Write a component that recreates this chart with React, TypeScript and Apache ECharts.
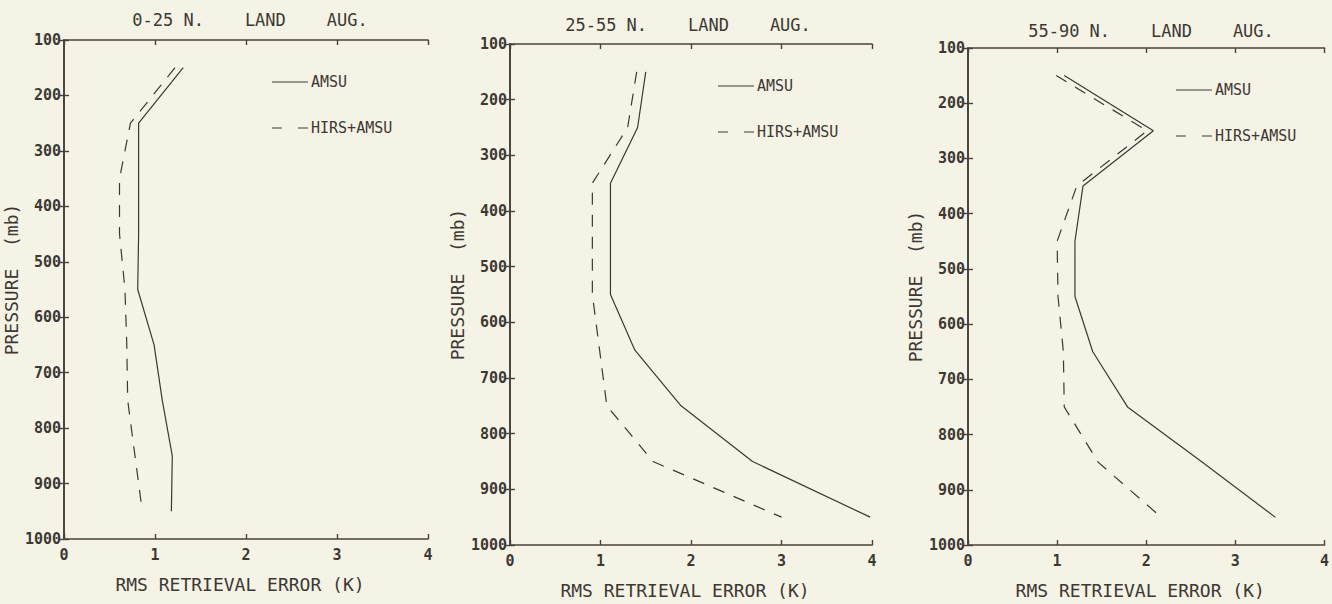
import React, { useEffect, useRef } from 'react';
import * as echarts from 'echarts';

// ---- data ----
const levels = [150, 250, 350, 450, 550, 650, 750, 850, 950];
const panelTitles = ['0-25 N.    LAND    AUG.', '25-55 N.    LAND    AUG.', '55-90 N.    LAND    AUG.'];
const amsuTropics = [1.31, 0.82, 0.82, 0.82, 0.81, 0.99, 1.08, 1.19, 1.18];
const hirsTropics = [1.22, 0.73, 0.61, 0.61, 0.67, 0.69, 0.7, 0.78, 0.86];
const amsuMidLat = [1.5, 1.41, 1.11, 1.11, 1.11, 1.38, 1.89, 2.68, 3.98];
const hirsMidLat = [1.4, 1.3, 0.91, 0.91, 0.91, 0.99, 1.07, 1.58, 3.0];
const amsuPolar = [1.08, 2.08, 1.29, 1.2, 1.2, 1.4, 1.79, 2.63, 3.45];
const hirsPolar = [0.99, 2.01, 1.22, 1.0, 1.01, 1.07, 1.08, 1.46, 2.17];
const seriesNames = ['AMSU', 'HIRS+AMSU'];
const xTitle = 'RMS RETRIEVAL ERROR (K)';
const yTitle = 'PRESSURE  (mb)';
const pressureMin = 100;
const pressureMax = 1000;
const pressureStep = 100;
const errorMin = 0;
const errorMax = 4;
const errorStep = 1;

// ---- layout / style ----
const panelData = [
  [amsuTropics, hirsTropics],
  [amsuMidLat, hirsMidLat],
  [amsuPolar, hirsPolar],
];
const grids = [
  { left: 64, top: 40, width: 364, height: 499 },
  { left: 510, top: 44, width: 362, height: 501 },
  { left: 968, top: 48, width: 362, height: 501 },
];
const titlePos = [
  { x: 250, y: 20 },
  { x: 688, y: 25 },
  { x: 1151, y: 31 },
];
const MONO = '"DejaVu Sans Mono", monospace';
const AXIS_COLOR = '#4a4239';
const TEXT_COLOR = '#3d3833';
const LINE_COLOR = '#3b3834';
const BG = '#f4f3e5';
const DASH = [12, 10];

function buildOption() {
  const grid: any[] = [];
  const xAxis: any[] = [];
  const yAxis: any[] = [];
  const series: any[] = [];
  const graphic: any[] = [];

  const tick = { show: true, inside: true, length: 5, lineStyle: { color: AXIS_COLOR, width: 1.4 } };
  const line = { show: true, lineStyle: { color: AXIS_COLOR, width: 1.7 } };
  const plain = (v: number) => String(v);

  grids.forEach((g, i) => {
    grid.push({ ...g, containLabel: false });
    xAxis.push({
      type: 'value', gridIndex: i, position: 'bottom', min: errorMin, max: errorMax, interval: errorStep,
      axisLine: line, axisTick: tick, splitLine: { show: false },
      axisLabel: { fontFamily: MONO, fontSize: 15, fontWeight: 'bold', color: TEXT_COLOR, margin: 8, formatter: plain },
      name: xTitle, nameLocation: 'middle', nameGap: 36,
      nameTextStyle: { fontFamily: MONO, fontSize: 18, color: TEXT_COLOR, padding: [0, 12, 0, 0] },
    });
    xAxis.push({
      type: 'value', gridIndex: i, position: 'top', min: errorMin, max: errorMax, interval: errorStep,
      axisLine: line, axisTick: tick, splitLine: { show: false }, axisLabel: { show: false },
    });
    yAxis.push({
      type: 'value', gridIndex: i, position: 'left', inverse: true,
      min: pressureMin, max: pressureMax, interval: pressureStep,
      axisLine: line, axisTick: tick, splitLine: { show: false },
      axisLabel: { fontFamily: MONO, fontSize: 15, fontWeight: 'bold', color: TEXT_COLOR, margin: 3, formatter: plain },
      name: yTitle, nameLocation: 'middle', nameGap: 33, nameRotate: 90,
      nameTextStyle: { fontFamily: MONO, fontSize: 18, color: TEXT_COLOR, padding: [0, 0, 0, 20] },
    });
    yAxis.push({
      type: 'value', gridIndex: i, position: 'right', inverse: true,
      min: pressureMin, max: pressureMax, interval: pressureStep,
      axisLine: line, axisTick: tick, splitLine: { show: false }, axisLabel: { show: false },
    });

    panelData[i].forEach((vals, k) => {
      series.push({
        type: 'line', name: seriesNames[k], xAxisIndex: 2 * i, yAxisIndex: 2 * i,
        data: levels.map((p, j) => [vals[j], p]),
        symbol: 'none', silent: true,
        lineStyle: { color: LINE_COLOR, width: 1.2, type: k === 0 ? 'solid' : DASH },
      });
    });

    graphic.push({
      type: 'text', x: titlePos[i].x, y: titlePos[i].y, silent: true,
      style: { text: panelTitles[i], fill: TEXT_COLOR, font: `17px ${MONO}`, align: 'center', verticalAlign: 'middle' },
    });

    const lx = g.left + 208;
    const ly = [g.top + 42, g.top + 88];
    graphic.push({
      type: 'line', silent: true,
      shape: { x1: lx, y1: ly[0], x2: lx + 36, y2: ly[0] },
      style: { stroke: LINE_COLOR, lineWidth: 1.2 },
    });
    graphic.push({
      type: 'line', silent: true,
      shape: { x1: lx, y1: ly[1], x2: lx + 36, y2: ly[1] },
      style: { stroke: LINE_COLOR, lineWidth: 1.2, lineDash: [10, 16] },
    });
    seriesNames.forEach((nm, k) => {
      graphic.push({
        type: 'text', x: lx + 39, y: ly[k], silent: true,
        style: { text: nm, fill: TEXT_COLOR, font: `15px ${MONO}`, align: 'left', verticalAlign: 'middle' },
      });
    });
  });

  return {
    animation: false,
    backgroundColor: BG,
    grid, xAxis, yAxis, series, graphic,
  };
}

export default function App() {
  const ref = useRef<HTMLDivElement>(null);
  useEffect(() => {
    document.body.style.background = BG;
    const chart = echarts.init(ref.current as HTMLDivElement, undefined, { renderer: 'svg' });
    chart.setOption(buildOption() as any);
    return () => chart.dispose();
  }, []);
  return (
    <div
      ref={ref}
      style={{ position: 'absolute', left: 0, top: 0, width: 1332, height: 604 }}
    />
  );
}
